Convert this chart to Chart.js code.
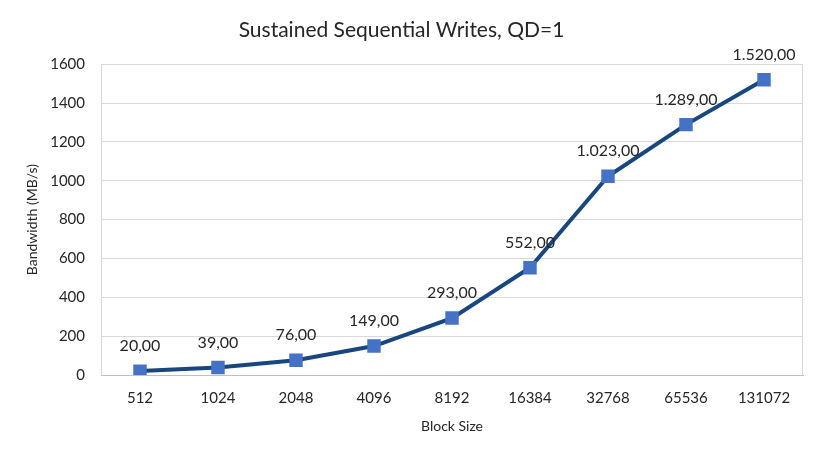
<!DOCTYPE html>
<html>
<head>
<meta charset="utf-8">
<script src="https://cdn.jsdelivr.net/npm/chart.js@4/dist/chart.umd.min.js"></script>
<style>
  html, body { margin: 0; padding: 0; background: #fff; }
  #wrap { width: 823px; height: 457px; }
</style>
</head>
<body>
<div id="wrap"><canvas id="c"></canvas></div>
<script>
const categories = ['512', '1024', '2048', '4096', '8192', '16384', '32768', '65536', '131072'];
const bandwidth = [20, 39, 76, 149, 293, 552, 1023, 1289, 1520];
const yTicks = [0, 200, 400, 600, 800, 1000, 1200, 1400, 1600];

const FONT = 'Lato, "Open Sans", sans-serif';

function fmt(v) {
  const parts = v.toFixed(2).split('.');
  const int = parts[0].replace(/\B(?=(\d{3})+(?!\d))/g, '.');
  return int + ',' + parts[1];
}

const boxPlugin = {
  id: 'box',
  beforeDatasetsDraw(chart) {
    const a = chart.chartArea, ctx = chart.ctx;
    ctx.save();
    ctx.strokeStyle = '#d9d9d9';
    ctx.lineWidth = 1;
    ctx.beginPath();
    ctx.moveTo(Math.round(a.left) + 0.5, a.top);
    ctx.lineTo(Math.round(a.left) + 0.5, a.bottom);
    ctx.moveTo(Math.round(a.right) - 0.5, a.top);
    ctx.lineTo(Math.round(a.right) - 0.5, a.bottom);
    ctx.stroke();
    ctx.restore();
  }
};

const labelPlugin = {
  id: 'vlabels',
  afterDatasetsDraw(chart) {
    const ctx = chart.ctx;
    const meta = chart.getDatasetMeta(0);
    ctx.save();
    ctx.font = '16px ' + FONT;
    ctx.fillStyle = '#262626';
    ctx.textAlign = 'center';
    ctx.textBaseline = 'middle';
    meta.data.forEach((pt, i) => {
      ctx.fillText(fmt(bandwidth[i]), pt.x, pt.y - 25);
    });
    ctx.restore();
  }
};

new Chart(document.getElementById('c'), {
  type: 'line',
  data: {
    labels: categories,
    datasets: [{
      data: bandwidth,
      borderColor: '#18467F',
      borderWidth: 4,
      backgroundColor: '#4472C4',
      pointBackgroundColor: '#4472C4',
      pointBorderColor: '#4472C4',
      pointBorderWidth: 0,
      pointStyle: 'rect',
      pointRadius: 9.5,
      pointHoverRadius: 9.5,
      tension: 0,
      fill: false
    }]
  },
  options: {
    responsive: true,
    maintainAspectRatio: false,
    animation: false,
    devicePixelRatio: 1,
    layout: { padding: { left: 0, right: 20, top: 0, bottom: 22 } },
    plugins: {
      legend: { display: false },
      tooltip: { enabled: false },
      title: {
        display: true,
        text: 'Sustained Sequential Writes, QD=1',
        color: '#262626',
        font: { family: FONT, size: 21, weight: 'normal' },
        padding: { top: 18, bottom: 21 }
      }
    },
    scales: {
      x: {
        offset: true,
        grid: { display: false, drawTicks: false, offset: true },
        border: { display: true, color: '#bfbfbf', width: 1 },
        ticks: { color: '#262626', font: { family: FONT, size: 15 }, padding: 14, maxRotation: 0 },
        title: { display: true, text: 'Block Size', color: '#262626', font: { family: FONT, size: 14 }, padding: { top: 6, bottom: 0 } },
        afterFit(s) { s.height = 60; }
      },
      y: {
        min: 0, max: 1600,
        afterBuildTicks(s) { s.ticks = yTicks.map(v => ({ value: v })); },
        grid: { color: '#d9d9d9', drawTicks: false },
        border: { display: false },
        ticks: { color: '#262626', font: { family: FONT, size: 15 }, padding: 16, callback: v => String(v) },
        title: { display: true, text: 'Bandwidth (MB/s)', color: '#262626', font: { family: FONT, size: 14 }, padding: { top: 24, bottom: 0 } },
        afterFit(s) { s.width = 101; }
      }
    }
  },
  plugins: [boxPlugin, labelPlugin]
});
</script>
</body>
</html>
